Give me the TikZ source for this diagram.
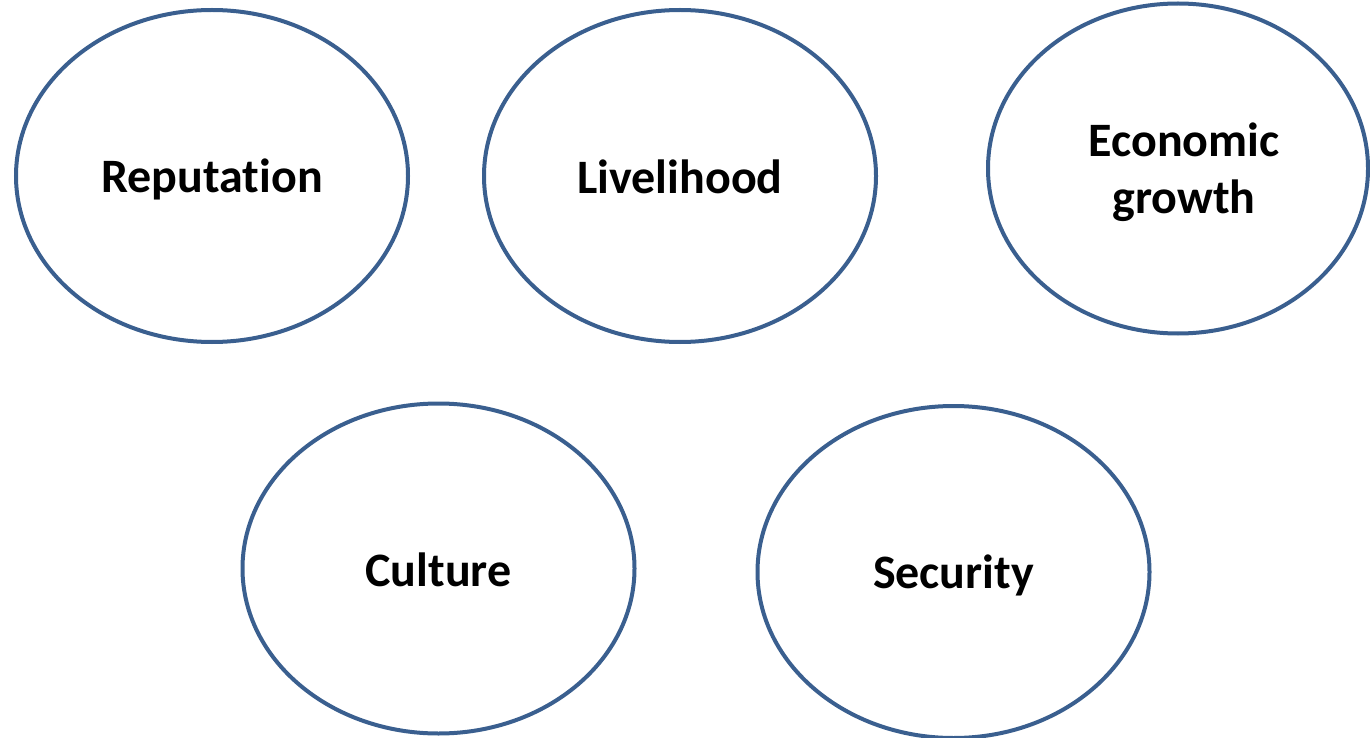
\documentclass[tikz,border=0pt]{standalone}
\usepackage{fontspec}
\setmainfont[Ligatures=NoCommon]{Carlito}
\usetikzlibrary{shapes.geometric}
\definecolor{ringblue}{HTML}{3A5F8F}
\begin{document}
\begin{tikzpicture}[x=1pt,y=-1pt,
  ring/.style={ellipse,draw=ringblue,line width=4pt,inner sep=0pt,
    minimum width=#1},
  ring/.default=392pt,
  lbl/.style={font=\fontsize{48}{57}\selectfont\bfseries,align=center,inner sep=0pt}]
\useasboundingbox (0,0) rectangle (1370,738);
\node[ring, minimum height=332pt] (rep) at (212,176) {};
\node[ring, minimum height=332pt] (liv) at (680,176) {};
\node[ring=380pt, minimum height=330pt] (eco) at (1178,168.5) {};
\node[ring, minimum height=330pt] (cul) at (438.5,568.5) {};
\node[ring, minimum height=332pt] (sec) at (953.5,572) {};
\node[lbl] (repT) at ([yshift=-3pt]rep.center) {Reputation};
\node[lbl] (livT) at ([yshift=-1pt]liv.center) {Livelihood};
\node[lbl] (ecoT) at ([xshift=6pt,yshift=-4pt]eco.center) {Economic\\growth};
\node[lbl] (culT) at ([yshift=-1pt]cul.center) {Culture};
\node[lbl] (secT) at ([yshift=-3pt]sec.center) {Security};
\end{tikzpicture}
\end{document}
